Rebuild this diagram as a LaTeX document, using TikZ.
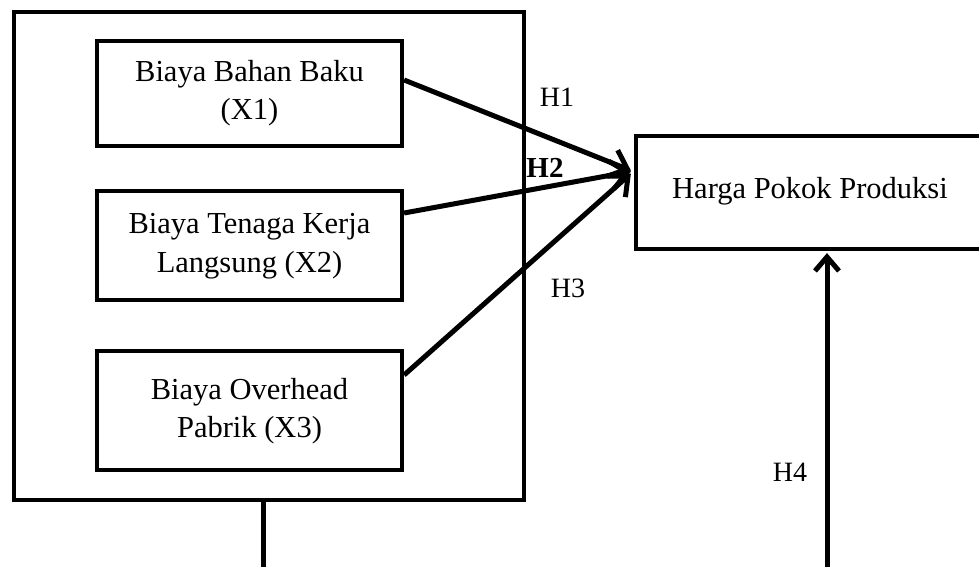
\documentclass[tikz,border=0pt]{standalone}
\usepackage{fontspec}
\setmainfont{Liberation Serif}
\usetikzlibrary{arrows.meta}
\begin{document}
\begin{tikzpicture}[x=1pt,y=-1pt,
  box/.style={draw,line width=4.2pt,align=center,inner sep=0pt,font=\fontsize{30.5}{38}\selectfont},
  hlab/.style={font=\fontsize{28}{32}\selectfont,inner sep=0pt},
  conn/.style={line width=5pt,-{Straight Barb[length=14pt,width=24pt,line width=5pt]}},
  bigconn/.style={line width=5pt,-{Straight Barb[length=16pt,width=28pt,line width=5pt]}}]
\useasboundingbox (0,0) rectangle (979,567);
\clip (0,0) rectangle (979,567);
\node[box,minimum width=510pt,minimum height=488pt] (outer) at (269,256) {};
\node[box,minimum width=305pt,minimum height=105pt] (x1) at (249.5,93.5) {Biaya Bahan Baku\\(X1)};
\node[box,minimum width=305pt,minimum height=109pt] (x2) at (249.5,245.5) {\raisebox{3pt}{\begin{tabular}{@{}c@{}}Biaya Tenaga Kerja\\[1pt]Langsung (X2)\end{tabular}}};
\node[box,minimum width=305pt,minimum height=119pt] (x3) at (249.5,410.5) {\raisebox{8pt}{\begin{tabular}{@{}c@{}}Biaya Overhead\\Pabrik (X3)\end{tabular}}};
\node[box,minimum width=348pt,minimum height=113pt] (hp) at (810,192.5) {\raisebox{10pt}{Harga Pokok Produksi}};
\draw[bigconn] ([yshift=13.5pt]x1.east) -- ([xshift=-3pt,yshift=22pt]hp.west);
\draw[bigconn] ([yshift=32.5pt]x2.east) -- ([xshift=-3pt,yshift=21pt]hp.west);
\draw[bigconn] ([yshift=35.5pt]x3.east) -- ([xshift=-3pt,yshift=19pt]hp.west);
\coordinate (bl) at (263,600);
\coordinate (br) at (827,600);
\draw[conn] ([xshift=-6pt]outer.south) -- (bl) -- (br) -- ([xshift=17pt,yshift=-2pt]hp.south);
\node[hlab] (h1) at (557,97) {H1};
\node[hlab,font=\fontsize{29}{32}\selectfont\bfseries] (h2) at (545,168) {H2};
\node[hlab] (h3) at (568,288) {H3};
\node[hlab] (h4) at (790,472) {H4};
\end{tikzpicture}
\end{document}
